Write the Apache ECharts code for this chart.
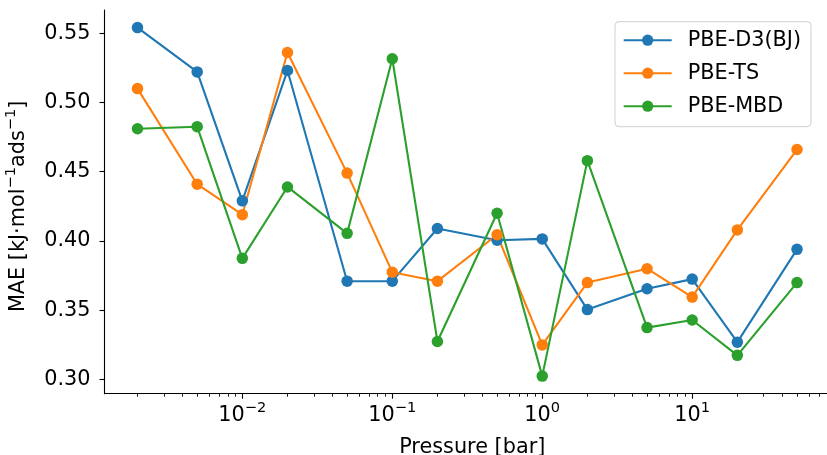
<!DOCTYPE html>
<html><head><meta charset="utf-8">
<script src="https://cdn.jsdelivr.net/npm/echarts@6/dist/echarts.min.js"></script>
<style>html,body{margin:0;padding:0;background:#fff}#c{width:827px;height:455px}</style>
</head><body><div id="c"></div>
<script>
const pressures = [0.002, 0.005, 0.01, 0.02, 0.05, 0.1, 0.2, 0.5, 1, 2, 5, 10, 20, 50];
const d3bj = [0.554, 0.522, 0.429, 0.523, 0.371, 0.371, 0.409, 0.4005, 0.4015, 0.3505, 0.3655, 0.3725, 0.327, 0.394];
const ts   = [0.510, 0.441, 0.419, 0.536, 0.449, 0.3775, 0.371, 0.4045, 0.325, 0.370, 0.380, 0.3595, 0.408, 0.466];
const mbd  = [0.481, 0.4825, 0.3875, 0.439, 0.4055, 0.5315, 0.3275, 0.420, 0.3025, 0.458, 0.3375, 0.343, 0.3175, 0.370];
const seriesNames = ['PBE-D3(BJ)', 'PBE-TS', 'PBE-MBD'];
const colors = ['#1f77b4', '#ff7f0e', '#2ca02c'];
const xMajorTicks = [0.01, 0.1, 1, 10];
const xMinorTicks = [0.002, 0.003, 0.004, 0.005, 0.006, 0.007, 0.008, 0.009,
  0.02, 0.03, 0.04, 0.05, 0.06, 0.07, 0.08, 0.09,
  0.2, 0.3, 0.4, 0.5, 0.6, 0.7, 0.8, 0.9,
  2, 3, 4, 5, 6, 7, 8, 9,
  20, 30, 40, 50, 60, 70, 80];
const yTicks = [0.30, 0.35, 0.40, 0.45, 0.50, 0.55];
const xMin = 0.001205, xMax = 82.97, yMin = 0.2898, yMax = 0.5667;

const FONT = 'DejaVu Sans';
const chart = echarts.init(document.getElementById('c'), null, {renderer: 'canvas'});
const seriesData = [d3bj, ts, mbd];
const supRich = {sup: {fontSize: 14.6, fontFamily: FONT, color: '#000', verticalAlign: 'top', lineHeight: 10}};
chart.setOption({
  animation: false,
  backgroundColor: '#fff',
  textStyle: {fontFamily: FONT},
  grid: {left: 104.5, right: -3, top: 10, bottom: 61.3, outerBoundsMode: 'none'},
  legend: {
    data: seriesNames, orient: 'vertical', left: 615, top: 21.7,
    itemWidth: 48, itemHeight: 14, itemGap: 11,
    padding: [7.5, 10, 9.5, 7.7],
    borderColor: '#cfcfcf', borderWidth: 1, borderRadius: 4, backgroundColor: '#fff',
    textStyle: {fontSize: 20.8, fontFamily: FONT, color: '#000', lineHeight: 22, padding: [0, 0, 0, 11]}
  },
  xAxis: [{
    type: 'log', logBase: 10, min: xMin, max: xMax, position: 'bottom',
    name: 'Pressure [bar]', nameLocation: 'middle', nameGap: 35,
    nameTextStyle: {fontSize: 20.8, fontFamily: FONT, color: '#000', lineHeight: 25, padding: [0, 0, 0, 10]},
    axisLine: {show: true, lineStyle: {color: '#000', width: 1.1}},
    axisTick: {show: true, inside: false, length: 5, customValues: xMajorTicks, lineStyle: {color: '#000', width: 1.1}},
    axisLabel: {show: true, margin: 7, customValues: xMajorTicks, fontSize: 20.8, fontFamily: FONT, color: '#000', lineHeight: 30,
      formatter: v => '10{sup|' + String(Math.round(Math.log10(v))).replace('-', '\u2212') + '}', rich: supRich},
    splitLine: {show: false}, minorTick: {show: false}, minorSplitLine: {show: false}
  }, {
    type: 'log', logBase: 10, min: xMin, max: xMax, position: 'bottom', gridIndex: 0,
    axisLine: {show: false},
    axisTick: {show: true, inside: false, length: 3, customValues: xMinorTicks, lineStyle: {color: '#000', width: 0.9}},
    axisLabel: {show: false}, splitLine: {show: false}
  }],
  yAxis: {
    type: 'value', min: yMin, max: yMax,
    name: 'MAE [kJ·mol{sup|\u22121}ads{sup|\u22121}]', nameLocation: 'middle', nameRotate: 90, nameGap: 66,
    nameTextStyle: {fontSize: 20.8, fontFamily: FONT, color: '#000', lineHeight: 30, rich: supRich, padding: [0, 9, 0, 0]},
    axisLine: {show: true, lineStyle: {color: '#000', width: 1.1}},
    axisTick: {show: true, inside: false, length: 5, customValues: yTicks, lineStyle: {color: '#000', width: 1.1}},
    axisLabel: {show: true, margin: 14, customValues: yTicks, fontSize: 20.8, fontFamily: FONT, color: '#000', formatter: v => v.toFixed(2)},
    splitLine: {show: false}
  },
  series: seriesNames.map((n, i) => ({
    name: n, type: 'line', xAxisIndex: 0,
    data: pressures.map((p, j) => [p, seriesData[i][j]]),
    symbol: 'circle', symbolSize: 11.5, showSymbol: true,
    lineStyle: {color: colors[i], width: 2.1},
    itemStyle: {color: colors[i]},
    emphasis: {disabled: true}
  }))
});
</script></body></html>
